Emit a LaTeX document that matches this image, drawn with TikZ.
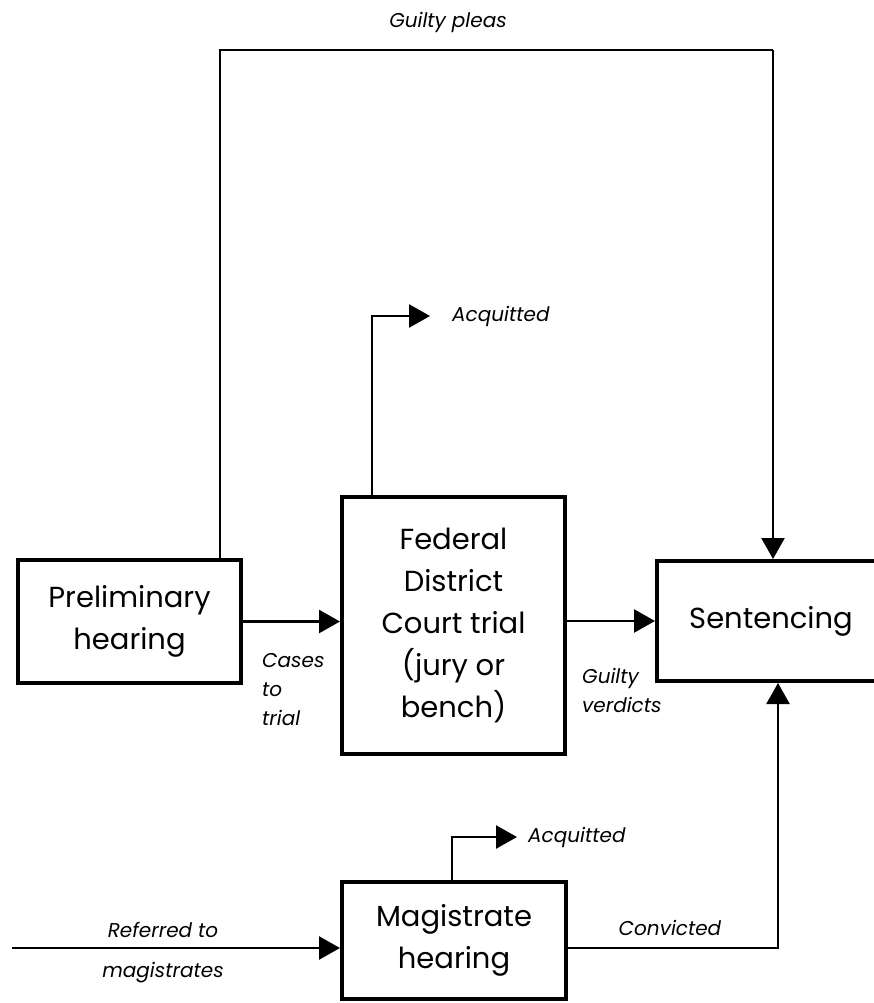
\documentclass[tikz,border=0pt]{standalone}
\usepackage{fontspec}
\setmainfont{Poppins}
\usetikzlibrary{arrows.meta}

\tikzset{
    box/.style={draw, line width=4, inner sep=0, align=center, font=\fontsize{29}{42}\selectfont},
    flow/.style={line width=2.5, -{Triangle[length=21pt,width=23pt]}},
    wire/.style={line width=2},
    lbl/.style={inner sep=0, align=left, font=\itshape\fontsize{20}{29}\selectfont},
}

\begin{document}
\begin{tikzpicture}[x=1pt,y=-1pt]
        \useasboundingbox (0,0) rectangle (874,1003);

        % boxes
        \node[box, minimum width=223, minimum height=123] (prelim) at (129.5,621.5) {Preliminary\\hearing};
        \node[box, minimum width=223, minimum height=257] (federal) at (453.5,625.5) {Federal\\District\\Court trial\\(jury or\\bench)};
        \node[box, minimum width=228, minimum height=120] (sent) at (771,621) {Sentencing};
        \node[box, minimum width=224, minimum height=117] (magis) at (454,940.5) {Magistrate\\hearing};

        % labels
        \node[lbl, anchor=base] (pleas) at (448,28) {Guilty pleas};
        \node[lbl, anchor=west] (acqA) at (452,316) {Acquitted};
        \node[lbl, anchor=west] (acqB) at (528,837) {Acquitted};
        \node[lbl, anchor=north west] (cases) at (262,653) {Cases\\to\\trial};
        \node[lbl, anchor=north west] (verd) at (582,668) {Guilty\\verdicts};
        \node[lbl, anchor=base] (refA) at (163,937) {Referred to};
        \node[lbl, anchor=base] (refB) at (163,977) {magistrates};
        \node[lbl, anchor=base] (conv) at (670,935) {Convicted};

        % corners
        \coordinate (pleaL) at (220,50);
        \coordinate (pleaR) at (773,50);
        \coordinate (upA) at (372,316);
        \coordinate (upB) at (452,837);
        \coordinate (refIn) at (12,948);
        \coordinate (convK) at (778,948);

        % guilty pleas
        \draw[wire] (prelim.north -| pleaL) -- (pleaL) -- (pleaR);
        \draw[flow] (pleaR) -- (pleaR |- sent.north);

        % cases to trial, guilty verdicts
        \draw[flow] (prelim.east) -- (prelim.east -| federal.west);
        \draw[flow] (federal.east |- sent.west) -- (sent.west);

        % acquitted
        \draw[flow] (federal.north -| upA) -- (upA) -- ([xshift=-22pt]acqA.west);
        \draw[flow] (magis.north -| upB) -- (upB) -- ([xshift=-11pt]acqB.west);

        % magistrates
        \draw[flow] (refIn) -- (refIn -| magis.west);
        \draw[flow] (magis.east |- convK) -- (convK) -- (convK |- sent.south);
\end{tikzpicture}
\end{document}
